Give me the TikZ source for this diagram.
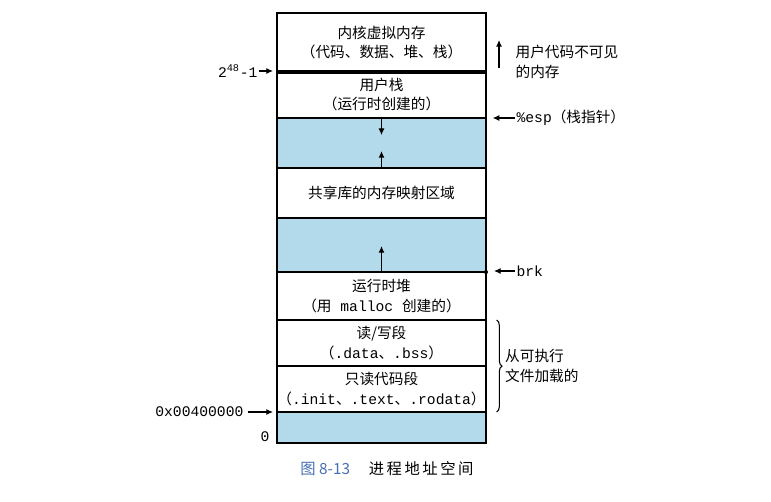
\documentclass[tikz,border=0pt]{standalone}
\usepackage{fontspec}
\setmainfont{Noto Sans CJK SC}
\setmonofont{Liberation Mono}
\usetikzlibrary{arrows.meta,positioning,decorations.pathreplacing}
\definecolor{gapblue}{RGB}{178,218,234}
\definecolor{capblue}{RGB}{70,110,180}

\begin{document}
\begin{tikzpicture}[x=0.75pt,y=-0.75pt,
 node distance=0pt,
 seg/.style={draw,line width=1pt,minimum width=156.75pt,inner sep=0pt,outer sep=0pt,align=center,font=\fontsize{11}{14.5}\selectfont},
 gap/.style={seg,fill=gapblue},
 arrow/.style={-{Latex[length=5pt,width=4.5pt]},line width=0.8pt},
 lbl/.style={inner sep=1pt,align=left,font=\fontsize{11}{14.5}\selectfont}]
\useasboundingbox (0,0) rectangle (771,501);
% memory segments, top to bottom
\node[seg,minimum height=43.9pt] (kernel) at (381.5,42.25) {内核虚拟内存\\（代码、数据、堆、栈）};
\node[seg,minimum height=34.9pt,below=of kernel] (ustack) {用户栈\\（运行时创建的）};
\node[gap,minimum height=37.5pt,below=of ustack] (gapa) {};
\node[seg,minimum height=37.5pt,below=of gapa] (shlib) {共享库的内存映射区域};
\node[gap,minimum height=40.5pt,below=of shlib] (gapb) {};
\node[seg,minimum height=36pt,below=of gapb] (heap) {运行时堆\\（用\texttt{ malloc }创建的）};
\node[seg,minimum height=34.5pt,below=of heap] (rwseg) {读/写段\\（\texttt{.data}、\texttt{.bss}）};
\node[seg,minimum height=34.5pt,below=of rwseg] (roseg) {只读代码段\\（\texttt{.init}、\texttt{.text}、\texttt{.rodata}）};
\node[gap,minimum height=23.25pt,below=of roseg] (bottom) {};
\draw[line width=3pt] (kernel.south west) -- (kernel.south east);
% growth arrows
\draw[arrow] (gapa.north) -- ++(0,17);
\draw[arrow] (gapa.south) -- ++(0,-17);
\draw[arrow] (gapb.south) -- ++(0,-26);
% left side addresses
\node[lbl,anchor=east,font=\fontsize{11}{14.5}\ttfamily] (topaddr) at (259,71) {2\textsuperscript{48}-1};
\draw[arrow,shorten >=3pt] (topaddr.east) -- (topaddr.east -| kernel.west);
\node[lbl,anchor=east,font=\fontsize{11}{14.5}\ttfamily] (textaddr) at (245,412) {0x00400000};
\draw[arrow,shorten >=3pt,shorten <=2pt] (textaddr.east) -- (textaddr.east -| roseg.west);
\node[lbl,anchor=east,font=\fontsize{11}{14.5}\ttfamily] (zero) at (271,437) {0};
% right side notes
\coordinate (upfrom) at (499,68);
\coordinate (upto) at (499,40);
\draw[arrow] (upfrom) -- (upto);
\node[lbl,anchor=west] (hidden) at (514,62) {用户代码不可见\\的内存};
\node[lbl,anchor=west] (esp) at (515,118) {\texttt{\%esp}（栈指针）};
\draw[arrow,shorten >=5pt] (esp.west) -- (esp.west -| ustack.east);
\fill (gapb.south east) circle (2);
\node[lbl,anchor=west,font=\fontsize{11}{14.5}\ttfamily] (brk) at (515,271) {brk};
\draw[arrow,shorten >=6pt] (brk.west) -- (brk.west -| heap.east);
\draw[decorate,decoration={brace,amplitude=4pt},line width=0.8pt] ([xshift=8pt]rwseg.north east) -- ([xshift=8pt]roseg.south east)
  node[lbl,midway,anchor=west,xshift=5pt] (loaded) {从可执行\\文件加载的};
% caption
\node[lbl,font=\fontsize{11.5}{14}\selectfont] (caption) at (387,469) {{\color{capblue}图 8-13}\hspace{14pt}进\,程\,地\,址\,空\,间};
\end{tikzpicture}
\end{document}
